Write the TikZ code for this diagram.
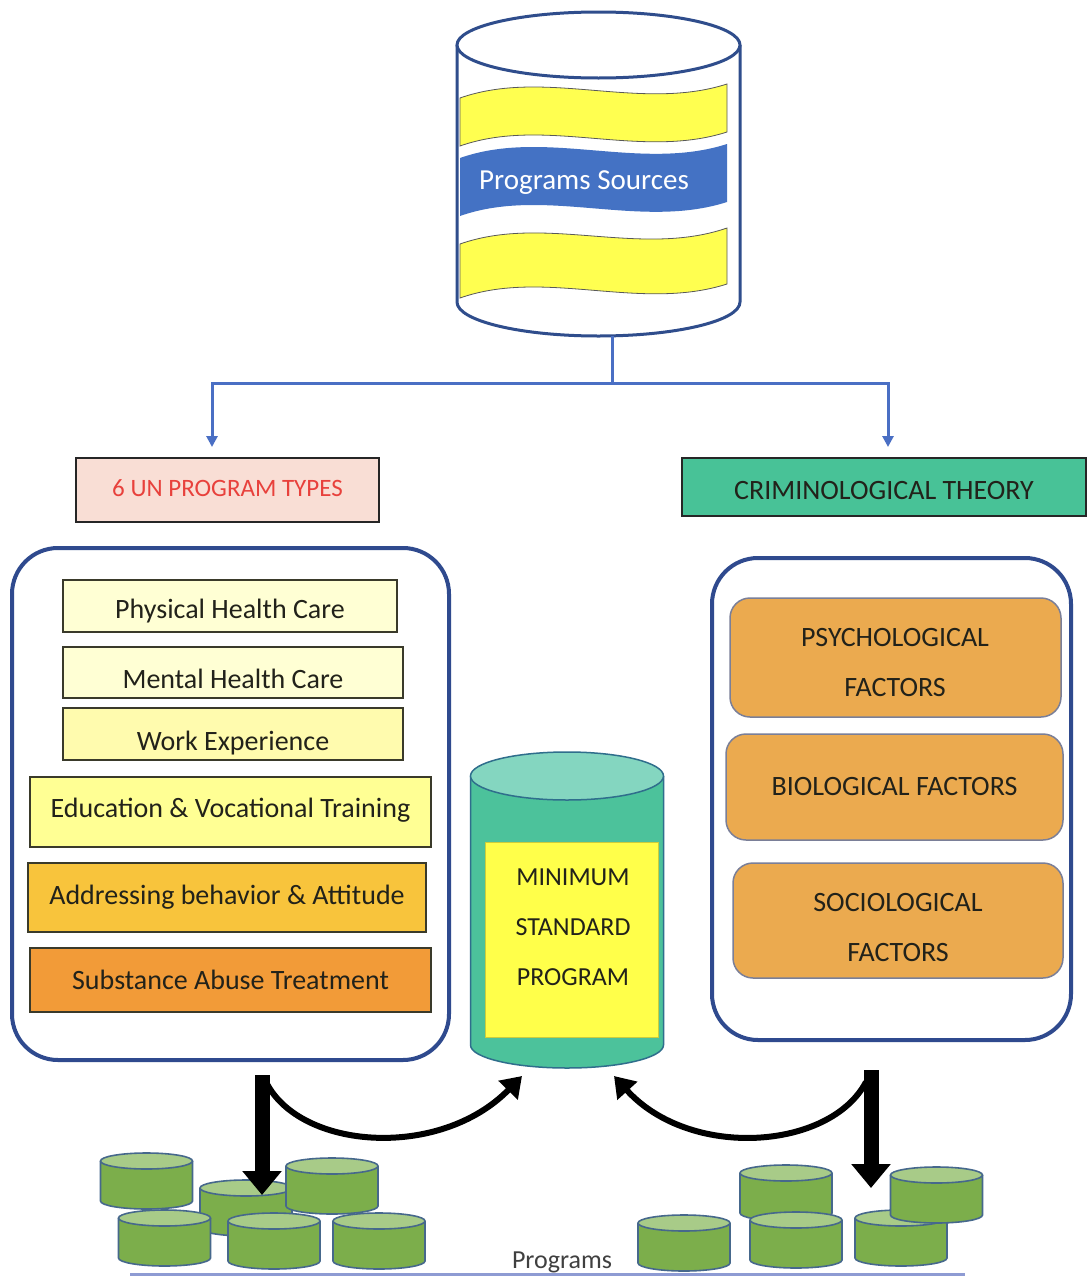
\documentclass[tikz,border=0pt]{standalone}
\usepackage{fontspec}
\setmainfont{Carlito}
\usetikzlibrary{arrows.meta}
\newcommand\myfs[2]{\fontsize{#1}{#2}\selectfont}
\definecolor{cylblue}{HTML}{2F4D8C}
\definecolor{bandblue}{HTML}{4472C4}
\definecolor{bandyellow}{HTML}{FFFF50}
\definecolor{connblue}{HTML}{4A6FC4}
\definecolor{unfill}{HTML}{F9DED5}
\definecolor{unred}{HTML}{E8413C}
\definecolor{crimfill}{HTML}{48C297}
\definecolor{bigline}{HTML}{2F4A8E}
\definecolor{cream}{HTML}{FFFFD4}
\definecolor{workfill}{HTML}{FFFBAE}
\definecolor{edufill}{HTML}{FFFF94}
\definecolor{addrfill}{HTML}{F8C43C}
\definecolor{substfill}{HTML}{F29B38}
\definecolor{factfill}{HTML}{EBAA4F}
\definecolor{factline}{HTML}{7A7F98}
\definecolor{mcbody}{HTML}{4CC29B}
\definecolor{mctop}{HTML}{84D6C0}
\definecolor{mcline}{HTML}{2F6E8C}
\definecolor{mspyellow}{HTML}{FFFF4A}
\definecolor{gbody}{HTML}{7CAE4B}
\definecolor{gtop}{HTML}{A8CB88}
\definecolor{gline}{HTML}{46688C}
\definecolor{progline}{HTML}{8E9BD3}
\definecolor{txt}{HTML}{22221A}
\definecolor{itemline}{HTML}{3A3A2A}
\begin{document}
\begin{tikzpicture}[x=1pt,y=-1pt,
  cyl/.style={draw=cylblue, line width=3pt},
  band/.style={draw=black!65, line width=0.8pt, fill=bandyellow},
  conn/.style={draw=connblue, line width=3pt, -{Triangle[length=11pt,width=11pt]}},
  tc/.style={text height=#1pt, text depth=0pt},
  item/.style={draw=itemline, line width=1.8pt, text=txt, font=\myfs{28}{34}, inner sep=0pt},
  bigbox/.style={draw=bigline, line width=4pt, rounded corners=46pt, fill=white, inner sep=0pt},
  fact/.style={draw=factline, line width=1.5pt, rounded corners=20pt, fill=factfill, inner sep=0pt},
  facttxt/.style={text=txt, font=\myfs{28}{50}, align=center, inner sep=0pt},
  mcl/.style={draw=mcline, line width=1.5pt},
  gl/.style={draw=gline, line width=1.6pt},
  thick arrow/.style={draw=black, line width=15pt, -{Triangle[length=24pt,width=38pt]}},
  curve arrow/.style={draw=black, line width=6pt, -{Triangle[length=20pt,width=26pt]}},
  pics/gcyl/.style={code={
    \fill[gbody] (-46,0) rectangle (46,40);
    \fill[gbody] (0,40) ellipse[x radius=46pt, y radius=8pt];
    \draw[gl] (-46,0) -- (-46,40) arc[start angle=180, end angle=360, x radius=46pt, y radius=8pt] -- (46,0);
    \draw[gl, fill=gtop] (0,0) ellipse[x radius=46pt, y radius=8pt];
  }}
]
\useasboundingbox (0,0) rectangle (1088,1277);
\fill[white] (0,0) rectangle (1088,1277);

% ---------- top cylinder: Programs Sources ----------
\fill[white] (457,45) rectangle (740,302);
\fill[white] (598.5,302) ellipse[x radius=141.5pt, y radius=34pt];
\draw[cyl] (457,45) -- (457,302) arc[start angle=180, end angle=360, x radius=141.5pt, y radius=34pt] -- (740,45);
\draw[cyl, fill=white] (598.5,45) ellipse[x radius=141.5pt, y radius=33pt];
\draw[band] (460,98) .. controls (545,68) and (640,112) .. (727,84) -- (727,132)
  .. controls (640,160) and (545,116) .. (460,146) -- cycle;
\fill[bandblue] (460,158) .. controls (545,128) and (640,172) .. (727,144) -- (727,202)
  .. controls (640,230) and (545,186) .. (460,216) -- cycle;
\draw[band] (460,244) .. controls (545,214) and (640,258) .. (727,228) -- (727,284)
  .. controls (640,312) and (545,268) .. (460,298) -- cycle;
\node[text=white, font=\myfs{29}{34}, tc=18.6, inner sep=0pt] (srctxt) at (584,180) {Programs Sources};

% ---------- connector from source ----------
\coordinate (srcbot) at (612,336);
\coordinate (split) at (612,383);
\coordinate (unIn) at (212,447);
\coordinate (crimIn) at (888,447);
\draw[conn] (srcbot) -- (split) -| (unIn);
\draw[conn] (split) -| (crimIn);

% ---------- headers ----------
\node[draw=black!85, line width=1.8pt, fill=unfill, text=unred, font=\myfs{25}{30}, tc=12, inner sep=0pt,
      minimum width=303pt, minimum height=64pt] (un) at (227.5,490) {6 UN PROGRAM TYPES};
\node[draw=black!85, line width=1.8pt, fill=crimfill, text=txt, font=\myfs{28}{34}, tc=24, inner sep=0pt,
      minimum width=404pt, minimum height=58pt] (crim) at (884,487) {CRIMINOLOGICAL THEORY};

% ---------- left big box ----------
\node[bigbox, minimum width=437pt, minimum height=512pt] (lbox) at (230.5,804) {};
\node[item, fill=cream, tc=24, minimum width=334pt, minimum height=52pt] (phys) at (230,606) {Physical Health Care};
\node[item, fill=cream, tc=31, minimum width=340pt, minimum height=51pt] (ment) at (233,672.5) {Mental Health Care};
\node[item, fill=workfill, tc=32, minimum width=340pt, minimum height=52pt] (work) at (233,734) {Work Experience};
\node[item, fill=edufill, tc=10, minimum width=401pt, minimum height=70pt] (edu) at (230.5,812) {Education \& Vocational Training};
\node[item, fill=addrfill, tc=13, minimum width=398pt, minimum height=69pt] (addr) at (227,897.5) {Addressing behavior \& Attitude};
\node[item, fill=substfill, tc=18, minimum width=401pt, minimum height=64pt] (subst) at (230.5,980) {Substance Abuse Treatment};

% ---------- right big box ----------
\node[bigbox, minimum width=359pt, minimum height=482pt] (rbox) at (891.5,799) {};
\node[fact, minimum width=331pt, minimum height=119pt] (psych) at (895.5,657.5) {};
\node[facttxt] (psychtxt) at (895,663) {PSYCHOLOGICAL\\FACTORS};
\node[fact, text=txt, font=\myfs{28}{34}, tc=16, minimum width=337pt, minimum height=106pt] (bio) at (894.5,787) {BIOLOGICAL FACTORS};
\node[fact, minimum width=330pt, minimum height=115pt] (socio) at (898,920.5) {};
\node[facttxt] (sociotxt) at (898,927.5) {SOCIOLOGICAL\\FACTORS};

% ---------- middle cylinder ----------
\fill[mcbody] (470.5,776) rectangle (663.5,1045);
\fill[mcbody] (567,1045) ellipse[x radius=96.5pt, y radius=23pt];
\draw[mcl] (470.5,776) -- (470.5,1045) arc[start angle=180, end angle=360, x radius=96.5pt, y radius=23pt] -- (663.5,776);
\draw[mcl, fill=mctop] (567,776) ellipse[x radius=96.5pt, y radius=24pt];
\node[fill=mspyellow, draw=mspyellow!80!black, line width=0.6pt, inner sep=0pt,
      minimum width=173pt, minimum height=195pt] (mspbox) at (571.5,939.5) {};
\node[text=txt, font=\myfs{26}{50}, align=center, inner sep=0pt] (msptxt) at (573,927) {MINIMUM\\STANDARD\\PROGRAM};

% ---------- bottom line and programs ----------
\draw[draw=progline, line width=3pt] (130,1274) -- (965,1274);

\pic at (146.5,1161) {gcyl};
\pic at (246,1188) {gcyl};
\pic at (332,1166) {gcyl};
\pic at (164.5,1218) {gcyl};
\pic at (274,1221) {gcyl};
\pic at (379,1221) {gcyl};

\pic at (786,1173) {gcyl};
\pic at (796,1220) {gcyl};
\pic at (684,1223) {gcyl};
\pic at (901,1218) {gcyl};
\pic at (936.5,1175) {gcyl};

\node[text=black!75, font=\myfs{26}{30}, tc=17, inner sep=0pt] (progs) at (562,1260) {Programs};

% ---------- black arrows ----------
\coordinate (ldownS) at (262,1075);
\coordinate (ldownE) at (262,1195);
\coordinate (rdownS) at (871,1070);
\coordinate (rdownE) at (871,1188);
\coordinate (lcurvS) at (266,1082);
\coordinate (lcurvE) at (522,1076);
\coordinate (rcurvS) at (866,1082);
\coordinate (rcurvE) at (614,1076);
\draw[curve arrow] (lcurvS) .. controls (300,1150) and (440,1160) .. (lcurvE);
\draw[curve arrow] (rcurvS) .. controls (830,1150) and (690,1160) .. (rcurvE);
\draw[thick arrow] (ldownS) -- (ldownE);
\draw[thick arrow] (rdownS) -- (rdownE);
\end{tikzpicture}
\end{document}
